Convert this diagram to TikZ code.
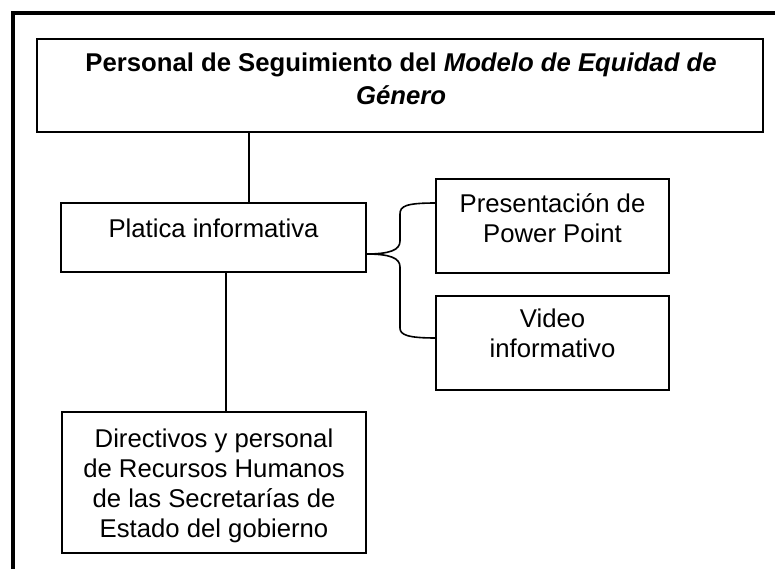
\documentclass[tikz,border=0pt]{standalone}
\usepackage{fontspec}
\setmainfont{Liberation Sans}
\usetikzlibrary{calc}
\begin{document}
\begin{tikzpicture}[x=1pt,y=-1pt,
  box/.style={draw, line width=1.6pt, inner sep=0pt, outer sep=0pt, anchor=north west},
  txt/.style={font=\fontsize{25.7}{29.8}\selectfont, align=center, inner sep=0pt, anchor=base},
  link/.style={line width=1.6pt},
  frame/.style={line width=4pt}]
\useasboundingbox (0,0) rectangle (775,569);
% outer frame (top and left only)
\draw[frame] (13,569) -- (13,13) -- (775,13);
% boxes
\node[box, minimum width=726pt, minimum height=93pt] (title) at (37,39) {};
\node[box, minimum width=305pt, minimum height=69pt] (plat) at (61,203) {};
\node[box, minimum width=233pt, minimum height=94pt] (pres) at (436,179) {};
\node[box, minimum width=233pt, minimum height=94pt] (video) at (436,296) {};
\node[box, minimum width=304pt, minimum height=141pt] (dir) at (62,412) {};
% texts (anchored at the baseline of their last line)
\node[txt, font=\fontsize{25.7}{33}\selectfont\bfseries] (title-t) at (401,105)
  {Personal de Seguimiento del \textit{Modelo de Equidad de}\\\textit{Género}};
\node[txt] (plat-t) at (213.5,237) {Platica informativa};
\node[txt] (pres-t) at (552.5,242) {Presentación de\\Power Point};
\node[txt] (video-t) at (552.5,357) {Video\\informativo};
\node[txt] (dir-t) at (214,537) {Directivos y personal\\de Recursos Humanos\\de las Secretarías de\\Estado del gobierno};
% connector coordinates
\path (plat.north west) ++(188,0) coordinate (j1);
\path (plat.south west) ++(165,0) coordinate (j2);
\path (pres.north west) ++(0,24) coordinate (b1);
\path (video.north west) ++(0,42) coordinate (b2);
\path (plat.south east) ++(0,-18) coordinate (bm);
% connectors
\draw[link] (b1) .. controls ($(b1)+(-30,0)$) and ($(b1)+(-36,3)$) .. ($(b1)+(-36,11)$)
  -- ($(bm)+(34,-13)$) .. controls ($(bm)+(34,-4)$) and ($(bm)+(24,0)$) .. (bm)
  .. controls ($(bm)+(24,0)$) and ($(bm)+(34,4)$) .. ($(bm)+(34,13)$)
  -- ($(b2)+(-36,-10)$) .. controls ($(b2)+(-36,-3)$) and ($(b2)+(-28,0)$) .. (b2);
\draw[link] (j1 |- title.south) -- (j1);
\draw[link] (j2) -- (j2 |- dir.north);
\end{tikzpicture}
\end{document}
